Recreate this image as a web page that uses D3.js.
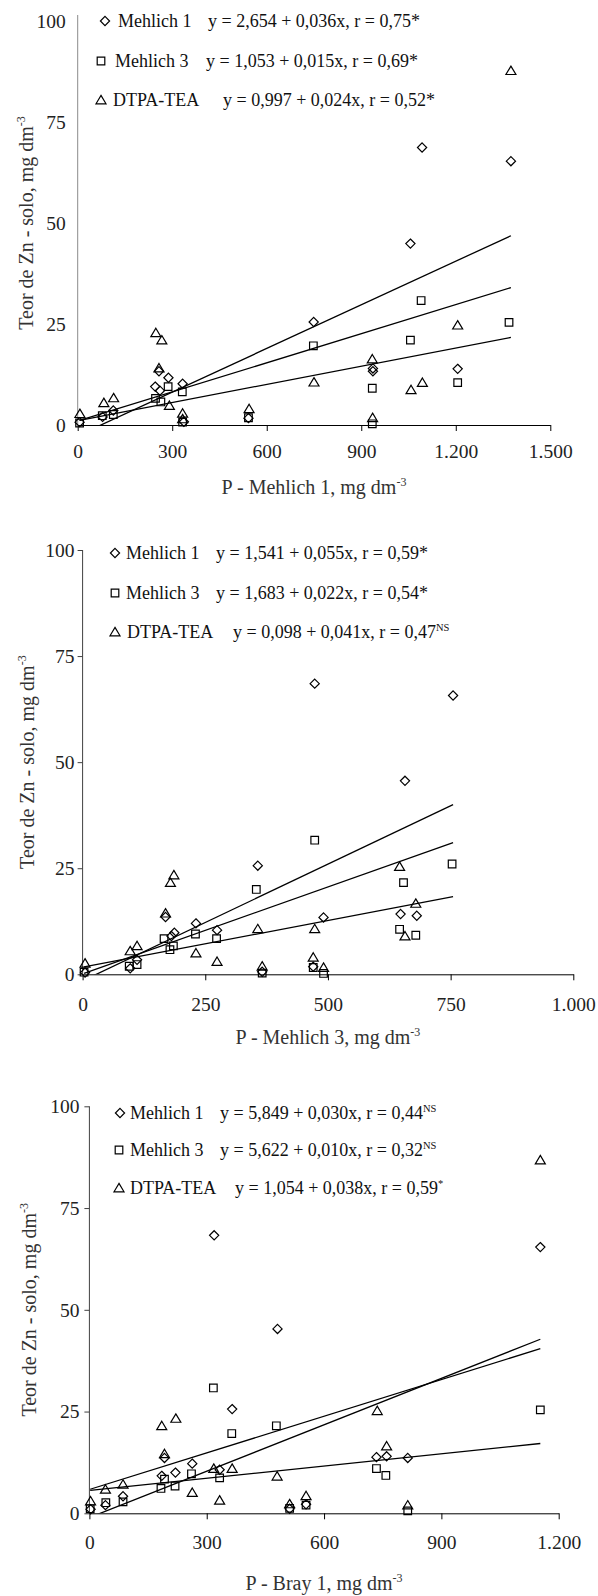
<!DOCTYPE html>
<html>
<head>
<meta charset="utf-8">
<script src="https://d3js.org/d3.v7.min.js"></script>
<style>
  body { margin: 0; background: #fff; }
  svg { display: block; }
</style>
</head>
<body>
<script>
// ---- data ----
const yTicks = [0, 25, 50, 75, 100];
const extractants = ["Mehlich 1", "Mehlich 3", "DTPA-TEA"];

// panel 1: P - Mehlich 1
const p1XTicks = [0, 300, 600, 900, 1200, 1500];
const p1XTickLabels = ["0", "300", "600", "900", "1.200", "1.500"];
const p1Mehlich1 = [[6,0.7],[79,2],[113,3.6],[246,9.5],[261,8.5],[258,13.3],[288,11.7],[333,10.2],[337,0.8],[542,1.7],[749,25.5],[937,13.3],[937,14],[1056,44.9],[1093,68.7],[1206,13.9],[1375,65.3]];
const p1Mehlich3 = [[6,0.5],[78,2.3],[113,2.6],[247,6.6],[264,5.7],[287,9.5],[332,8.2],[333,0.7],[542,1.8],[748,19.6],[935,9.1],[935,0.3],[1056,21],[1090,30.8],[1206,10.5],[1369,25.4]];
const p1Dtpa = [[7,2.8],[83,5.5],[114,6.7],[248,22.8],[258,14.1],[267,21],[291,4.8],[333,2.9],[333,1.5],[544,4],[750,10.6],[935,16.3],[936,1.8],[1058,8.7],[1094,10.5],[1206,24.7],[1375,87.7]];
const p1Intercepts = [-2.654, 1.053, 0.997];
const p1Slopes = [0.036, 0.015, 0.024];
const p1Equations = ["y = 2,654 + 0,036x, r = 0,75*", "y = 1,053 + 0,015x, r = 0,69*", "y = 0,997 + 0,024x, r = 0,52*"];
const p1Sups = ["", "", ""];

// panel 2: P - Mehlich 3
const p2XTicks = [0, 250, 500, 750, 1000];
const p2XTickLabels = ["0", "250", "500", "750", "1.000"];
const p2Mehlich1 = [[5,0.4],[97,1.4],[111,3.4],[169,13.5],[181,9],[187,9.8],[231,12],[274,10.4],[357,25.6],[366,0.6],[470,1.8],[473,68.5],[491,13.4],[648,14.2],[657,45.6],[681,13.8],[755,65.7]];
const p2Mehlich3 = [[3,0.5],[95,1.9],[111,2.3],[166,8.4],[178,5.8],[185,6.7],[230,9.5],[273,8.4],[354,20],[366,0.3],[470,1.6],[473,31.6],[491,0.2],[646,10.6],[654,21.6],[679,9.2],[753,26]];
const p2Dtpa = [[5,2.6],[97,5.5],[111,6.7],[169,14.4],[179,21.6],[186,23.4],[231,5],[274,3],[357,10.7],[366,1.9],[470,4],[473,10.7],[491,1.6],[646,25.4],[657,9],[679,16.7]];
const p2Intercepts = [-1.541, 1.683, 0.098];
const p2Slopes = [0.055, 0.022, 0.041];
const p2Equations = ["y = 1,541 + 0,055x, r = 0,59*", "y = 1,683 + 0,022x, r = 0,54*", "y = 0,098 + 0,041x, r = 0,47"];
const p2Sups = ["", "", "NS"];

// panel 3: P - Bray 1
const p3XTicks = [0, 300, 600, 900, 1200];
const p3XTickLabels = ["0", "300", "600", "900", "1.200"];
const p3Mehlich1 = [[3,1],[41,2],[86,4.2],[185,9.2],[192,13.6],[220,10],[263,12.2],[319,68.3],[333,10.7],[365,25.6],[481,45.3],[512,1.1],[554,2.2],[734,13.8],[760,14],[814,13.6],[1153,65.4]];
const p3Mehlich3 = [[2,1.1],[42,2.6],[86,2.8],[183,6.1],[192,8.4],[219,6.7],[261,9.7],[317,30.8],[333,8.7],[364,19.6],[478,21.5],[512,1.2],[554,2],[734,11],[758,9.3],[814,0.6],[1153,25.4]];
const p3Dtpa = [[3,3],[41,5.9],[86,7.1],[185,21.5],[192,14.6],[221,23.3],[263,5.1],[318,11],[333,3.2],[365,11],[480,9.1],[512,2.3],[554,4.3],[736,25.2],[760,16.5],[814,2],[1153,86.8]];
const p3Intercepts = [5.849, 5.622, -1.054];
const p3Slopes = [0.030, 0.010, 0.038];
const p3Equations = ["y = 5,849 + 0,030x, r = 0,44", "y = 5,622 + 0,010x, r = 0,32", "y = 1,054 + 0,038x, r = 0,59"];
const p3Sups = ["NS", "NS", "*"];

// ---- layout ----
const panels = [
  { xTicks: p1XTicks, xLabels: p1XTickLabels, xMax: 1500, series: [p1Mehlich1, p1Mehlich3, p1Dtpa],
    a: p1Intercepts, b: p1Slopes, eqs: p1Equations, sups: p1Sups, xTitle: "P - Mehlich 1, mg dm",
    left: 77.7, right: 550.3, y0: 425, y100: 21, yAxisColor: "#8c8c8c", yTick: 0, yPad: 12, xPad: 13,
    yTitleX: 33, xTitleY: 494,
    legMarkX: [105, 101, 101], legNameX: [118, 115, 113], legEqX: [208, 206, 223], legY: [21, 61, 100] },
  { xTicks: p2XTicks, xLabels: p2XTickLabels, xMax: 1000, series: [p2Mehlich1, p2Mehlich3, p2Dtpa],
    a: p2Intercepts, b: p2Slopes, eqs: p2Equations, sups: p2Sups, xTitle: "P - Mehlich 3, mg dm",
    left: 82.6, right: 573.3, y0: 974.3, y100: 550, yAxisColor: "#404040", yTick: 5, yPad: 3, xPad: 17,
    yTitleX: 34, xTitleY: 1044,
    legMarkX: [115, 115, 115], legNameX: [126, 126, 127], legEqX: [216, 216, 233], legY: [553, 593, 632] },
  { xTicks: p3XTicks, xLabels: p3XTickLabels, xMax: 1200, series: [p3Mehlich1, p3Mehlich3, p3Dtpa],
    a: p3Intercepts, b: p3Slopes, eqs: p3Equations, sups: p3Sups, xTitle: "P - Bray 1, mg dm",
    left: 89.4, right: 558.7, y0: 1513.3, y100: 1106.3, yAxisColor: "#404040", yTick: 5, yPad: 5, xPad: 16,
    yTitleX: 36, xTitleY: 1590,
    legMarkX: [120, 119, 119], legNameX: [130, 130, 130], legEqX: [220, 220, 235], legY: [1113, 1150, 1188] }
];

const serif = "'Liberation Serif', 'Times New Roman', serif";

const svg = d3.select("body").append("svg")
  .attr("width", 598)
  .attr("height", 1596);

// marker shapes: diamond, square, triangle
function markerPath(kind, cx, cy) {
  if (kind === 0) return `M${cx},${cy - 4.6}L${cx + 4.6},${cy}L${cx},${cy + 4.6}L${cx - 4.6},${cy}Z`;
  if (kind === 1) return `M${cx - 3.8},${cy - 3.8}h7.6v7.6h-7.6Z`;
  return `M${cx},${cy - 4.6}L${cx + 5},${cy + 3.8}L${cx - 5},${cy + 3.8}Z`;
}

panels.forEach((p, pi) => {
  const g = svg.append("g");
  const x = d3.scaleLinear().domain([0, p.xMax]).range([p.left, p.right]);
  const y = d3.scaleLinear().domain([0, 100]).range([p.y0, p.y100]);

  // y axis
  const yAx = g.append("g")
    .attr("transform", `translate(${p.left},0)`)
    .call(d3.axisLeft(y).tickValues(yTicks).tickSize(p.yTick).tickSizeOuter(0).tickPadding(p.yPad));
  yAx.select(".domain").remove();
  yAx.selectAll("line").attr("stroke", p.yAxisColor);
  yAx.selectAll("text")
    .style("font-family", serif).style("font-size", "19.5px").attr("fill", "#222");
  g.append("line")
    .attr("x1", p.left).attr("x2", p.left)
    .attr("y1", p.y0).attr("y2", pi === 0 ? p.y100 - 6 : p.y100)
    .attr("stroke", p.yAxisColor);

  // x axis
  const xAx = g.append("g")
    .attr("transform", `translate(0,${p.y0})`)
    .call(d3.axisBottom(x).tickValues(p.xTicks).tickFormat((d, i) => p.xLabels[i])
      .tickSize(6).tickSizeOuter(0).tickPadding(p.xPad));
  xAx.select(".domain").attr("stroke", "#000");
  xAx.selectAll("text")
    .style("font-family", serif).style("font-size", "19.5px").attr("fill", "#222");

  // axis titles
  const yt = g.append("text")
    .attr("transform", `translate(${p.yTitleX},${(p.y0 + p.y100) / 2}) rotate(-90)`)
    .attr("text-anchor", "middle").attr("fill", "#333")
    .style("font-family", serif).style("font-size", "20px")
    .text("Teor de Zn - solo, mg dm");
  yt.append("tspan").attr("dy", -8).style("font-size", "12px").text("-3");

  const xt = g.append("text")
    .attr("x", (p.left + p.right) / 2).attr("y", p.xTitleY)
    .attr("text-anchor", "middle").attr("fill", "#333")
    .style("font-family", serif).style("font-size", "20px")
    .text(p.xTitle);
  xt.append("tspan").attr("dy", -8).style("font-size", "12px").text("-3");

  // clip for trend lines
  const clipId = "clip" + pi;
  g.append("clipPath").attr("id", clipId)
    .append("rect")
    .attr("x", p.left).attr("y", p.y100 - 10)
    .attr("width", p.right - p.left).attr("height", p.y0 - p.y100 + 10);

  // trend lines span the panel's full data range
  const allX = p.series.flat().map(d => d[0]);
  const xLo = d3.min(allX), xHi = d3.max(allX);
  p.series.forEach((s, si) => {
    const line = d3.line().x(d => x(d)).y(d => y(p.a[si] + p.b[si] * d));
    g.append("path")
      .datum([xLo, xHi])
      .attr("clip-path", `url(#${clipId})`)
      .attr("fill", "none")
      .attr("stroke", "#000")
      .attr("stroke-width", 1.3)
      .attr("d", line);
  });

  // points
  p.series.forEach((s, si) => {
    g.append("g").selectAll("path")
      .data(s)
      .join("path")
      .attr("d", d => markerPath(si, x(d[0]), y(d[1])))
      .attr("fill", "none")
      .attr("stroke", "#000")
      .attr("stroke-width", 1.2);
  });

  // legend
  extractants.forEach((name, i) => {
    const ly = p.legY[i];
    g.append("path")
      .attr("d", markerPath(i, p.legMarkX[i], ly))
      .attr("fill", "none").attr("stroke", "#000").attr("stroke-width", 1.2);
    g.append("text")
      .attr("x", p.legNameX[i]).attr("y", ly).attr("dy", "0.35em")
      .attr("fill", "#111")
      .style("font-family", serif).style("font-size", "18px")
      .text(name);
    const eq = g.append("text")
      .attr("x", p.legEqX[i]).attr("y", ly).attr("dy", "0.35em")
      .attr("fill", "#111")
      .style("font-family", serif).style("font-size", "18px")
      .text(p.eqs[i]);
    if (p.sups[i]) {
      eq.append("tspan").attr("dy", -7).style("font-size", "10.5px").text(p.sups[i]);
    }
  });
});
</script>
</body>
</html>
